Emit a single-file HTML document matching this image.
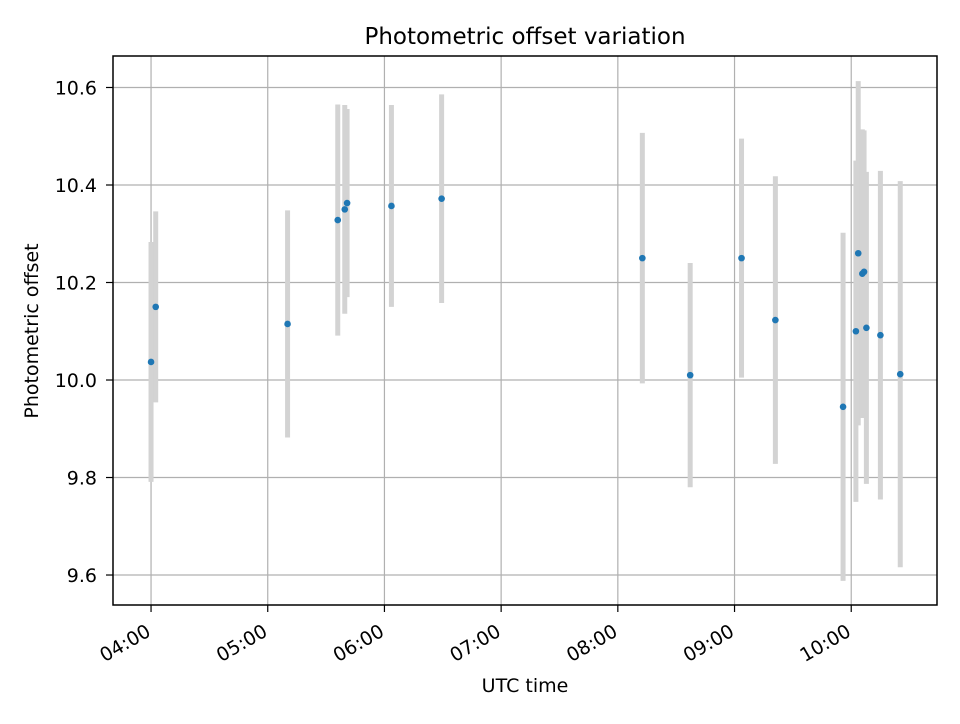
<!DOCTYPE html>
<html><head><meta charset="utf-8"><style>
body{margin:0;background:#fff;font-family:"DejaVu Sans","Liberation Sans",sans-serif;}
svg text{font-family:"DejaVu Sans","Liberation Sans",sans-serif;fill:#000;}
</style></head><body>
<svg id="chart" width="960" height="720" xmlns="http://www.w3.org/2000/svg">
<rect width="960" height="720" fill="#fff"/>
<text x="525" y="44" text-anchor="middle" font-size="23">Photometric offset variation</text>
<g id="grid"></g><g id="bars"></g><g id="pts"></g><g id="axes"></g>
<rect x="113" y="56" width="824" height="549" fill="none" stroke="#000" stroke-width="1.5"/>
<text x="525" y="692" text-anchor="middle" font-size="19">UTC time</text>
<text transform="translate(38,331) rotate(-90)" text-anchor="middle" font-size="19">Photometric offset</text>
</svg>
<script>
const times=[4.00,4.04,5.17,5.60,5.66,5.68,6.06,6.49,8.21,8.62,9.06,9.35,9.93,10.04,10.06,10.095,10.11,10.13,10.25,10.42];
const values=[10.037,10.15,10.115,10.328,10.35,10.363,10.357,10.372,10.25,10.01,10.25,10.123,9.945,10.10,10.26,10.218,10.222,10.107,10.092,10.012];
const errors=[0.246,0.196,0.233,0.237,0.214,0.193,0.207,0.214,0.257,0.23,0.245,0.295,0.357,0.35,0.353,0.296,0.29,0.32,0.337,0.396];
const yTicks=[9.6,9.8,10.0,10.2,10.4,10.6];
const xTicks=[4,5,6,7,8,9,10];
const xTickLabels=["04:00","05:00","06:00","07:00","08:00","09:00","10:00"];
const X0=113,X1=937,Y0=605,Y1=56,HMIN=3.674,HMAX=10.735,VMIN=9.5385,VMAX=10.6646;
const sx=h=>X0+(h-HMIN)/(HMAX-HMIN)*(X1-X0);
const sy=v=>Y0-(v-VMIN)/(VMAX-VMIN)*(Y0-Y1);
const NS="http://www.w3.org/2000/svg";
function mk(tag,attrs,parent){const e=document.createElementNS(NS,tag);for(const k in attrs)e.setAttribute(k,attrs[k]);document.getElementById(parent).appendChild(e);return e;}
yTicks.forEach((t,i)=>{const y=sy(t);
 let g=mk('line',{x1:X0,x2:X1,y1:y,y2:y,stroke:'#b0b0b0','stroke-width':1.2},'grid');
 
 
 let tk=mk('line',{x1:X0-7,x2:X0,y1:y,y2:y,stroke:'#000','stroke-width':1.2},'axes');
 
 
 let tx=mk('text',{x:X0-16,y:y+7,'text-anchor':'end','font-size':19},'axes');
 tx.textContent=t.toFixed(1);
 
 
});
xTicks.forEach((t,i)=>{const x=sx(t);
 let g=mk('line',{x1:x,x2:x,y1:Y0,y2:Y1,stroke:'#b0b0b0','stroke-width':1.2},'grid');
 
 
 let tk=mk('line',{x1:x,x2:x,y1:Y0,y2:Y0+7,stroke:'#000','stroke-width':1.2},'axes');
 
 
 const ax=x+1, ay=Y0+30;
 let tx=mk('text',{x:ax,y:ay,'text-anchor':'end','font-size':19,transform:`rotate(-30 ${ax} ${ay})`},'axes');
 tx.textContent=xTickLabels[i];
 
 
});
times.forEach((t,i)=>{const x=sx(t);
 let b=mk('line',{x1:x,x2:x,y1:sy(values[i]-errors[i]),y2:sy(values[i]+errors[i]),stroke:'#d3d3d3','stroke-width':5},'bars');
 
 
});
times.forEach((t,i)=>{
 let c=mk('circle',{cx:sx(t),cy:sy(values[i]),r:3.3,fill:'#1f77b4'},'pts');
 
 
});
</script>
</body></html>
